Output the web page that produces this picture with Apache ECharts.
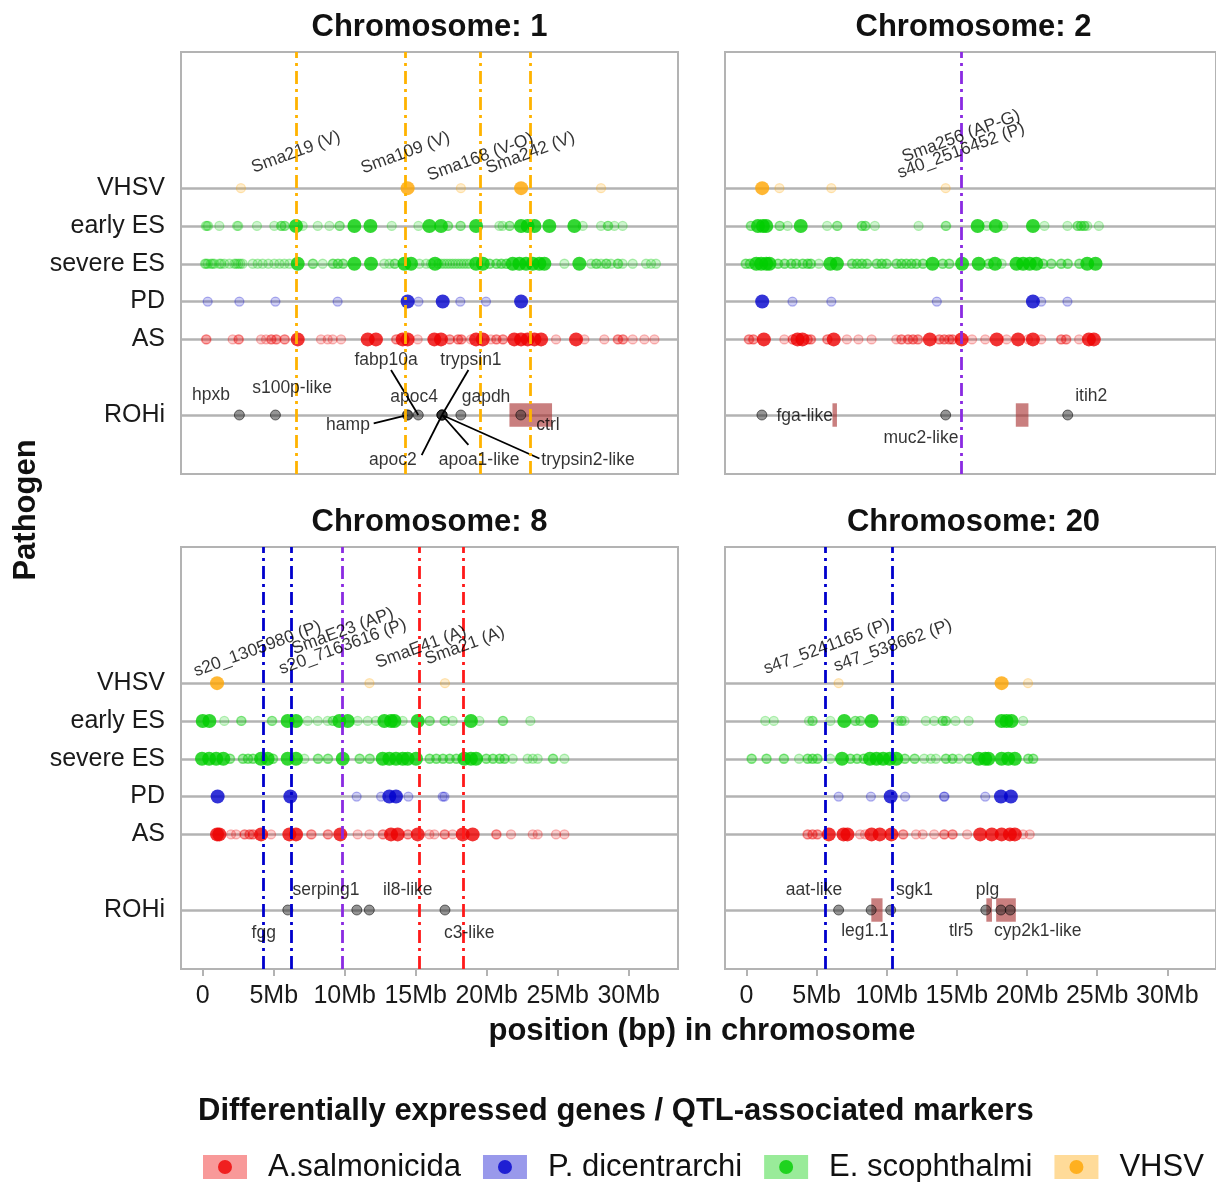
<!DOCTYPE html>
<html><head><meta charset="utf-8">
<script src="https://cdn.jsdelivr.net/npm/echarts@6/dist/echarts.min.js"></script>
<style>html,body{margin:0;padding:0;background:#fff}#c{width:1216px;height:1182px}</style>
</head><body><div id="c"></div>
<script>
// ---------- categories / ticks ----------
const chromosomes = ['1', '2', '8', '20'];
const pathogens = ['AS', 'PD', 'severe ES', 'early ES', 'VHSV'];
const rowLabels = ['ROHi', 'AS', 'PD', 'severe ES', 'early ES', 'VHSV'];
const rowValues = [0, 2, 3, 4, 5, 6];
const legendNames = ['A.salmonicida', 'P. dicentrarchi', 'E. scophthalmi', 'VHSV'];
const xTicks = [0, 5, 10, 15, 20, 25, 30];
const xTickLabels = ['0', '5Mb', '10Mb', '15Mb', '20Mb', '25Mb', '30Mb'];

// ---------- chromosome 1 (positions in Mb) ----------
const chr1_VHSV_sig = [14.43, 22.42];
const chr1_VHSV_ns = [2.69, 18.18, 28.05];
const chr1_earlyES_sig = [6.57, 10.68, 11.81, 15.96, 16.78, 19.25, 22.42, 22.88, 23.36, 24.41, 26.17];
const chr1_earlyES_ns = [0.22, 0.30, 0.38, 1.17, 2.42, 2.50, 3.82, 5.04, 5.51, 5.55, 5.75, 5.79, 7.04, 8.10, 8.92, 9.62, 9.66, 13.31, 15.19, 17.25, 17.29, 18.14, 18.18, 20.89, 21.12, 21.59, 21.63, 26.76, 28.05, 28.52, 28.56, 28.99, 29.57];
const chr1_severeES_sig = [6.69, 10.68, 11.85, 14.20, 14.67, 16.36, 19.25, 19.72, 21.83, 22.30, 22.77, 23.24, 23.71, 24.06, 26.52];
const chr1_severeES_ns = [0.16, 0.23, 0.35, 0.58, 0.70, 0.82, 1.17, 1.29, 1.52, 1.88, 2.23, 2.35, 2.51, 2.65, 2.81, 3.52, 3.87, 4.22, 4.62, 5.04, 5.40, 5.75, 6.10, 7.74, 7.78, 8.45, 9.15, 9.19, 9.50, 9.54, 9.86, 9.90, 12.79, 13.14, 13.50, 13.54, 15.26, 15.73, 16.08, 16.6, 16.8, 17.0, 17.2, 17.4, 17.6, 17.8, 18.0, 18.2, 18.4, 18.6, 18.8, 20.19, 20.23, 20.66, 20.70, 21.01, 21.05, 21.36, 21.40, 25.47, 27.35, 27.70, 27.74, 28.05, 28.40, 28.44, 28.75, 29.22, 29.26, 29.57, 30.28, 31.22, 31.57, 31.92];
const chr1_PD_sig = [14.43, 16.90, 22.42];
const chr1_PD_ns = [0.35, 2.58, 5.12, 9.50, 15.19, 18.14, 19.95];
const chr1_AS_sig = [6.69, 11.62, 12.20, 14.08, 14.43, 16.31, 16.78, 19.25, 19.72, 21.94, 22.42, 22.88, 23.36, 23.83, 26.29];
const chr1_AS_ns = [0.23, 0.27, 2.11, 2.51, 2.55, 4.11, 4.46, 4.81, 4.85, 5.16, 5.20, 5.75, 5.79, 8.33, 8.80, 9.15, 9.74, 13.61, 13.65, 15.14, 17.37, 17.41, 17.96, 18.00, 18.19, 18.23, 18.89, 20.30, 20.66, 20.70, 21.12, 21.16, 24.88, 26.88, 28.28, 29.22, 29.26, 29.57, 29.61, 30.28, 31.10, 31.81];
const chr1_geneNames = ['hpxb', 's100p-like', 'hamp', 'apoc4', 'fabp10a', 'trypsin1', 'apoc2', 'apoa1-like', 'trypsin2-like', 'gapdh', 'ctrl'];
const chr1_genePos = [2.58, 5.12, 14.40, 14.45, 15.18, 16.85, 16.85, 16.85, 16.85, 18.18, 22.40];
const chr1_geneLabelX = [0.58, 6.29, 10.23, 14.88, 12.91, 18.89, 13.39, 19.46, 27.13, 19.95, 24.31];
const chr1_geneLabelY = [0.53, 0.71, -0.26, 0.48, 1.45, 1.45, -1.19, -1.19, -1.19, 0.48, -0.26];
const chr1_segStartX = [null, null, 12.04, null, 13.26, 18.71, 15.42, 18.71, 23.71, null, null];
const chr1_segStartY = [null, null, -0.22, null, 1.19, 1.19, -1.06, -0.79, -1.15, null, null];
const chr1_rohStart = [21.6];
const chr1_rohEnd = [24.6];
const chr1_markerPos = [6.57, 14.27, 19.55, 23.08];
const chr1_markerTrait = ['V', 'V', 'V', 'V'];
const chr1_markerLabels = ['Sma219 (V)', 'Sma109 (V)', 'Sma168 (V-O)', 'Sma242 (V)'];
const chr1_markerLabelX = [6.57, 14.27, 19.55, 23.08];
const chr1_markerLabelY = [6.95, 6.93, 6.82, 6.93];

// ---------- chromosome 2 ----------
const chr2_VHSV_sig = [1.12];
const chr2_VHSV_ns = [2.35, 6.05, 14.20];
const chr2_earlyES_sig = [0.82, 1.17, 1.41, 3.87, 16.48, 17.77, 20.42];
const chr2_earlyES_ns = [0.30, 0.34, 2.35, 2.39, 2.93, 5.75, 6.45, 6.49, 8.21, 8.25, 8.45, 8.49, 9.15, 12.27, 14.20, 14.24, 17.13, 18.31, 21.24, 22.88, 23.59, 23.63, 23.83, 23.87, 24.06, 24.10, 24.29, 25.12];
const chr2_severeES_sig = [0.70, 1.05, 1.41, 1.64, 5.98, 6.45, 13.26, 15.37, 16.55, 17.72, 19.25, 19.72, 20.19, 20.66, 24.29, 24.88];
const chr2_severeES_ns = [-0.07, -0.03, 0.23, 0.27, 2.23, 2.27, 2.70, 2.74, 3.17, 3.21, 3.52, 3.56, 3.99, 4.03, 4.34, 4.38, 4.57, 4.61, 5.16, 7.51, 7.55, 7.86, 7.90, 8.21, 8.25, 8.57, 8.61, 9.27, 9.31, 9.62, 9.66, 9.97, 10.01, 10.68, 10.72, 11.03, 11.07, 11.38, 11.42, 11.74, 11.78, 12.09, 12.13, 12.56, 12.60, 13.97, 14.01, 14.43, 14.47, 17.25, 17.29, 18.19, 21.12, 21.16, 21.71, 21.75, 22.42, 22.46, 22.88, 22.92, 23.71, 23.75];
const chr2_PD_sig = [1.12, 20.42];
const chr2_PD_ns = [3.28, 6.05, 13.57, 21.01, 22.88];
const chr2_AS_sig = [1.24, 3.64, 3.99, 6.22, 13.07, 15.33, 17.84, 19.36, 20.42, 24.41, 24.76];
const chr2_AS_ns = [0.16, 0.20, 0.47, 0.51, 2.70, 3.28, 3.32, 4.34, 4.38, 4.57, 4.61, 5.75, 5.79, 7.16, 7.98, 8.92, 10.68, 11.03, 11.07, 11.50, 11.54, 11.85, 11.89, 12.20, 12.24, 13.73, 13.77, 14.08, 14.12, 14.43, 14.47, 14.67, 14.71, 16.08, 17.02, 18.54, 20.07, 21.01, 22.42, 22.46, 22.77, 22.81, 23.71];
const chr2_geneNames = ['fga-like', 'muc2-like', 'itih2'];
const chr2_genePos = [1.10, 14.20, 22.90];
const chr2_geneLabelX = [4.15, 12.44, 24.58];
const chr2_geneLabelY = [-0.02, -0.60, 0.51];
const chr2_segStartX = [null, null, null];
const chr2_segStartY = [null, null, null];
const chr2_rohStart = [6.13, 19.2];
const chr2_rohEnd = [6.45, 20.1];
const chr2_markerPos = [15.3];
const chr2_markerTrait = ['AP'];
const chr2_markerLabels = ['Sma256 (AP-G)', 's40_2516452 (P)'];
const chr2_markerLabelX = [15.3, 15.3];
const chr2_markerLabelY = [7.37, 6.99];

// ---------- chromosome 8 ----------
const chr8_VHSV_sig = [1.01];
const chr8_VHSV_ns = [11.74, 17.06];
const chr8_earlyES_sig = [0.00, 0.47, 5.98, 6.57, 9.62, 10.21, 12.79, 13.26, 13.50, 15.14, 18.89];
const chr8_earlyES_ns = [1.52, 2.70, 2.74, 4.86, 4.90, 7.39, 8.10, 8.80, 9.15, 9.19, 10.91, 11.62, 12.20, 14.08, 15.96, 16.00, 17.02, 17.06, 17.60, 19.48, 21.12, 21.16, 23.07];
const chr8_severeES_sig = [-0.05, 0.45, 0.95, 1.45, 4.11, 4.57, 5.98, 6.57, 9.86, 12.67, 13.14, 13.61, 14.08, 14.43, 15.02, 18.42, 18.89, 19.25];
const chr8_severeES_ns = [1.90, 1.94, 2.81, 2.85, 3.17, 3.21, 3.52, 3.56, 4.93, 4.97, 7.16, 8.10, 8.14, 8.80, 8.84, 11.03, 11.07, 11.74, 11.78, 15.96, 16.00, 16.43, 16.47, 16.90, 16.94, 17.37, 17.41, 17.84, 17.88, 19.95, 19.99, 20.42, 20.46, 20.89, 20.93, 21.24, 21.28, 21.83, 22.88, 23.24, 23.59, 24.65, 24.69, 25.47];
const chr8_PD_sig = [1.05, 6.17, 13.14, 13.61];
const chr8_PD_ns = [10.84, 12.56, 14.48, 16.90, 17.02];
const chr8_AS_sig = [1.01, 1.17, 4.11, 6.10, 6.57, 9.69, 13.26, 13.73, 15.14, 18.31, 19.01];
const chr8_AS_ns = [1.99, 2.35, 2.93, 2.97, 3.28, 3.32, 3.52, 3.56, 4.81, 7.63, 7.67, 8.80, 8.84, 10.91, 11.74, 12.67, 12.71, 14.43, 14.47, 15.96, 16.31, 17.02, 17.06, 17.60, 20.66, 20.70, 21.71, 23.24, 23.59, 24.88, 25.47];
const chr8_geneNames = ['fgg', 'serping1', 'il8-like', 'c3-like'];
const chr8_genePos = [5.99, 10.85, 11.73, 17.06];
const chr8_geneLabelX = [4.30, 8.68, 14.44, 18.77];
const chr8_geneLabelY = [-0.60, 0.53, 0.53, -0.60];
const chr8_segStartX = [null, null, null, null];
const chr8_segStartY = [null, null, null, null];
const chr8_rohStart = [];
const chr8_rohEnd = [];
const chr8_markerPos = [4.23, 6.22, 9.86, 15.25, 18.38];
const chr8_markerTrait = ['P', 'P', 'AP', 'A', 'A'];
const chr8_markerLabels = ['s20_1305980 (P)', 'SmaE23 (AP)', 's20_7163616 (P)', 'SmaE41 (A)', 'Sma21 (A)'];
const chr8_markerLabelX = [3.85, 9.86, 9.86, 15.37, 18.46];
const chr8_markerLabelY = [6.90, 7.37, 6.96, 6.95, 6.99];

// ---------- chromosome 20 ----------
const chr20_VHSV_sig = [18.19];
const chr20_VHSV_ns = [6.57, 20.07];
const chr20_earlyES_sig = [6.97, 8.92, 18.19, 18.54, 18.89];
const chr20_earlyES_ns = [1.34, 1.95, 4.46, 4.69, 4.73, 5.98, 7.74, 7.78, 8.10, 8.14, 10.80, 11.03, 11.07, 11.27, 12.79, 13.38, 13.97, 14.01, 14.20, 14.24, 14.90, 15.84, 19.72];
const chr20_severeES_sig = [6.81, 8.80, 9.27, 9.74, 10.21, 10.68, 16.55, 17.02, 17.25, 18.19, 18.66, 19.13];
const chr20_severeES_ns = [0.35, 0.39, 1.41, 1.45, 2.65, 2.69, 3.75, 4.34, 4.38, 4.69, 4.73, 5.04, 5.08, 5.98, 7.39, 7.43, 7.86, 7.90, 8.33, 8.37, 11.27, 11.31, 11.97, 12.01, 12.67, 13.14, 13.50, 14.20, 14.24, 14.67, 14.71, 15.14, 15.84, 15.88, 20.07, 20.11, 20.42, 20.46];
const chr20_PD_sig = [10.28, 18.14, 18.85];
const chr20_PD_ns = [6.57, 8.87, 11.31, 14.08, 14.12, 17.02];
const chr20_AS_sig = [5.87, 6.92, 7.20, 8.92, 9.50, 10.33, 16.66, 17.49, 18.19, 18.78, 19.13];
const chr20_AS_ns = [4.34, 4.38, 4.69, 4.73, 5.04, 5.08, 8.10, 8.45, 11.15, 11.19, 12.09, 12.56, 13.38, 14.08, 14.12, 14.67, 14.71, 15.73, 19.72, 20.19];
const chr20_geneNames = ['aat-like', 'leg1.1', 'sgk1', 'tlr5', 'plg', 'cyp2k1-like'];
const chr20_genePos = [6.57, 8.89, 10.28, 17.06, 18.14, 18.80];
const chr20_geneLabelX = [4.81, 8.45, 11.97, 15.30, 17.18, 20.77];
const chr20_geneLabelY = [0.53, -0.57, 0.53, -0.57, 0.53, -0.57];
const chr20_segStartX = [null, null, null, null, null, null];
const chr20_segStartY = [null, null, null, null, null, null];
const chr20_rohStart = [8.9, 17.1, 17.8];
const chr20_rohEnd = [9.7, 17.5, 19.2];
const chr20_markerPos = [5.63, 10.39];
const chr20_markerTrait = ['P', 'P'];
const chr20_markerLabels = ['s47_5241165 (P)', 's47_538662 (P)'];
const chr20_markerLabelX = [5.72, 10.44];
const chr20_markerLabelY = [6.96, 6.99];

// ---------- assemble ----------
const panelData = [
  {chr: '1', pts: {VHSV: [chr1_VHSV_sig, chr1_VHSV_ns], 'early ES': [chr1_earlyES_sig, chr1_earlyES_ns], 'severe ES': [chr1_severeES_sig, chr1_severeES_ns], PD: [chr1_PD_sig, chr1_PD_ns], AS: [chr1_AS_sig, chr1_AS_ns]},
   genes: [chr1_geneNames, chr1_genePos, chr1_geneLabelX, chr1_geneLabelY, chr1_segStartX, chr1_segStartY], roh: [chr1_rohStart, chr1_rohEnd],
   markers: [chr1_markerPos, chr1_markerTrait], mlab: [chr1_markerLabels, chr1_markerLabelX, chr1_markerLabelY]},
  {chr: '2', pts: {VHSV: [chr2_VHSV_sig, chr2_VHSV_ns], 'early ES': [chr2_earlyES_sig, chr2_earlyES_ns], 'severe ES': [chr2_severeES_sig, chr2_severeES_ns], PD: [chr2_PD_sig, chr2_PD_ns], AS: [chr2_AS_sig, chr2_AS_ns]},
   genes: [chr2_geneNames, chr2_genePos, chr2_geneLabelX, chr2_geneLabelY, chr2_segStartX, chr2_segStartY], roh: [chr2_rohStart, chr2_rohEnd],
   markers: [chr2_markerPos, chr2_markerTrait], mlab: [chr2_markerLabels, chr2_markerLabelX, chr2_markerLabelY]},
  {chr: '8', pts: {VHSV: [chr8_VHSV_sig, chr8_VHSV_ns], 'early ES': [chr8_earlyES_sig, chr8_earlyES_ns], 'severe ES': [chr8_severeES_sig, chr8_severeES_ns], PD: [chr8_PD_sig, chr8_PD_ns], AS: [chr8_AS_sig, chr8_AS_ns]},
   genes: [chr8_geneNames, chr8_genePos, chr8_geneLabelX, chr8_geneLabelY, chr8_segStartX, chr8_segStartY], roh: [chr8_rohStart, chr8_rohEnd],
   markers: [chr8_markerPos, chr8_markerTrait], mlab: [chr8_markerLabels, chr8_markerLabelX, chr8_markerLabelY]},
  {chr: '20', pts: {VHSV: [chr20_VHSV_sig, chr20_VHSV_ns], 'early ES': [chr20_earlyES_sig, chr20_earlyES_ns], 'severe ES': [chr20_severeES_sig, chr20_severeES_ns], PD: [chr20_PD_sig, chr20_PD_ns], AS: [chr20_AS_sig, chr20_AS_ns]},
   genes: [chr20_geneNames, chr20_genePos, chr20_geneLabelX, chr20_geneLabelY, chr20_segStartX, chr20_segStartY], roh: [chr20_rohStart, chr20_rohEnd],
   markers: [chr20_markerPos, chr20_markerTrait], mlab: [chr20_markerLabels, chr20_markerLabelX, chr20_markerLabelY]}
];

// ---------- styles ----------
const FONT = 'Liberation Sans, Arial, Helvetica, sans-serif';
const PCOL = {AS: [238, 0, 0], PD: [0, 0, 205], 'severe ES': [0, 205, 0], 'early ES': [0, 205, 0], VHSV: [255, 165, 0]};
const PLEG = {AS: 'A.salmonicida', PD: 'P. dicentrarchi', 'severe ES': 'E. scophthalmi', 'early ES': 'E. scophthalmi', VHSV: 'VHSV'};
const LEGCOL = [[238, 0, 0], [0, 0, 205], [0, 205, 0], [255, 165, 0]];
const TRAITCOL = {V: '#FFB300', AP: '#8A2BE2', P: '#0000CD', A: '#FF1A1A'};
const rgba = (c, a) => `rgba(${c[0]},${c[1]},${c[2]},${a})`;
const rowOf = p => rowValues[rowLabels.indexOf(p)];

const gridPos = [[181, 52], [725, 52], [181, 547], [725, 547]];
const GW = 497, GH = 422;
const XMIN = -1.53, XMAX = 33.47, YMIN = -1.56, YMAX = 9.6;

const grids = [], xAxes = [], yAxes = [], series = [], titles = [];
panelData.forEach((pd, i) => {
  const isLeft = i % 2 === 0, isBottom = i >= 2;
  grids.push({left: gridPos[i][0], top: gridPos[i][1], width: GW, height: GH, show: true,
    borderColor: '#B3B3B3', borderWidth: 2, backgroundColor: '#fff'});
  xAxes.push({type: 'value', gridIndex: i, min: XMIN, max: XMAX, position: 'bottom',
    axisLine: {show: false, onZero: false}, splitLine: {show: false},
    axisTick: {show: isBottom, customValues: xTicks, length: 7, lineStyle: {color: '#B3B3B3', width: 2}},
    axisLabel: {show: isBottom, customValues: xTicks, margin: 15, fontSize: 25, fontFamily: FONT, color: '#1a1a1a',
      formatter: v => xTickLabels[xTicks.indexOf(v)]}});
  yAxes.push({type: 'value', gridIndex: i, min: YMIN, max: YMAX,
    axisLine: {show: false, onZero: false},
    axisTick: {show: false, customValues: rowValues},
    splitLine: {show: true, lineStyle: {color: '#B3B3B3', width: 2.5}},
    axisLabel: {show: isLeft, customValues: rowValues, margin: 16, fontSize: 25, fontFamily: FONT, color: '#1a1a1a',
      lineHeight: 30, padding: [3, 0, 0, 0],
      formatter: v => rowLabels[rowValues.indexOf(v)]}});
  titles.push({text: 'Chromosome: ' + pd.chr, left: gridPos[i][0] + GW / 2, top: isBottom ? 504 : 9, textAlign: 'center', padding: 0,
    textStyle: {fontSize: 31, fontWeight: 'bold', fontFamily: FONT, color: '#111', lineHeight: 36}});

  const base = {xAxisIndex: i, yAxisIndex: i, silent: true, emphasis: {disabled: true}, animation: false};
  // ROHi regions
  series.push(Object.assign({type: 'custom', z: 1, data: pd.roh[0].map((s, k) => [s, pd.roh[1][k]]),
    encode: {x: [0, 1]},
    renderItem: (params, api) => {
      const a = api.coord([api.value(0), 0.31]);
      const b = api.coord([api.value(1), -0.31]);
      return {type: 'rect', shape: {x: a[0], y: a[1], width: b[0] - a[0], height: b[1] - a[1]},
        style: {fill: 'rgba(165,42,42,0.6)'}};
    }}, base));
  // pathogen points
  pathogens.forEach(p => {
    const y = rowOf(p), c = PCOL[p];
    series.push(Object.assign({type: 'scatter', name: PLEG[p], z: 2, symbol: 'circle', symbolSize: 9,
      itemStyle: {color: rgba(c, 0.24), borderColor: rgba(c, 0.35), borderWidth: 1.3},
      data: pd.pts[p][1].map(x => [x, y])}, base));
    series.push(Object.assign({type: 'scatter', name: PLEG[p], z: 3, symbol: 'circle', symbolSize: 14,
      itemStyle: {color: rgba(c, 1)},
      data: pd.pts[p][0].map(x => [x, y])}, base));
  });
  // ROHi gene points
  const g = pd.genes;
  series.push(Object.assign({type: 'scatter', z: 3, symbol: 'circle', symbolSize: 10,
    itemStyle: {color: 'rgba(40,40,40,0.62)', borderColor: 'rgba(0,0,0,0.65)', borderWidth: 1},
    data: g[1].map(x => [x, 0])}, base));
  // label segments
  const segs = [];
  g[0].forEach((n, k) => { if (g[4][k] !== null) segs.push({coords: [[g[4][k], g[5][k]], [g[1][k], 0]]}); });
  series.push(Object.assign({type: 'lines', coordinateSystem: 'cartesian2d', z: 4, polyline: false,
    lineStyle: {color: '#000', width: 1.8, opacity: 1, curveness: 0}, data: segs}, base));
  // gene labels
  series.push(Object.assign({type: 'scatter', z: 5, symbolSize: 1, itemStyle: {color: 'rgba(0,0,0,0)'},
    label: {show: true, position: 'inside', formatter: '{b}', fontSize: 17.5, fontFamily: FONT, color: '#000'},
    data: g[0].map((n, k) => ({name: n, value: [g[2][k], g[3][k]]}))}, base));
  // marker labels
  const ml = pd.mlab;
  series.push(Object.assign({type: 'scatter', z: 5, symbolSize: 1, itemStyle: {color: 'rgba(0,0,0,0)'},
    label: {show: true, position: 'inside', rotate: 20, formatter: '{b}', fontSize: 17.5, fontFamily: FONT, color: '#000',
      align: 'center', verticalAlign: 'middle'},
    data: ml[0].map((n, k) => ({name: n, value: [ml[1][k], ml[2][k]]}))}, base));
  // marker lines
  series.push(Object.assign({type: 'scatter', z: 6, data: [],
    markLine: {silent: true, symbol: ['none', 'none'], animation: false, label: {show: false},
      lineStyle: {width: 2.8, type: [13, 5, 3, 5]},
      emphasis: {disabled: true},
      data: pd.markers[0].map((x, k) => ({xAxis: x, lineStyle: {color: TRAITCOL[pd.markers[1][k]]}}))}}, base));
});

titles.push({text: 'position (bp) in chromosome', left: 702, top: 1013, textAlign: 'center', padding: 0,
  textStyle: {fontSize: 31, fontWeight: 'bold', fontFamily: FONT, color: '#111', lineHeight: 36}});
titles.push({text: 'Differentially expressed genes / QTL-associated markers', left: 198, top: 1093, padding: 0,
  textStyle: {fontSize: 31, fontWeight: 'bold', fontFamily: FONT, color: '#111', lineHeight: 36}});

// dot icon: a 44x24 frame (tiny corner marks) with a centred circle of diameter 14
const DOT_ICON = 'path://M0,0h0.01v0.01h-0.01zM43.99,23.99h0.01v0.01h-0.01zM29,12a7,7 0 1,1 -14,0a7,7 0 1,1 14,0z';
const legendCommon = {left: 203, top: 1149, orient: 'horizontal', itemWidth: 44, itemHeight: 24, itemGap: 22, padding: 0,
  selectedMode: false, symbolKeepAspect: false};
const legends = [
  Object.assign({}, legendCommon, {
    data: legendNames.map((n, k) => ({name: n, icon: 'rect', itemStyle: {color: rgba(LEGCOL[k], 0.5), borderWidth: 0}})),
    textStyle: {fontSize: 31, fontFamily: FONT, color: '#111', padding: [0, 0, 0, 16], lineHeight: 36}}),
  Object.assign({}, legendCommon, {
    data: legendNames.map((n, k) => ({name: n, icon: DOT_ICON, itemStyle: {color: rgba(LEGCOL[k], 1), borderWidth: 0}})),
    textStyle: {fontSize: 31, fontFamily: FONT, color: 'rgba(0,0,0,0)', padding: [0, 0, 0, 16], lineHeight: 36}})
];

const chart = echarts.init(document.getElementById('c'), null, {renderer: 'canvas'});
chart.setOption({
  animation: false,
  backgroundColor: '#fff',
  title: titles,
  legend: legends,
  grid: grids,
  xAxis: xAxes,
  yAxis: yAxes,
  series: series,
  graphic: [{type: 'text', x: 26, y: 510, rotation: Math.PI / 2, silent: true,
    style: {text: 'Pathogen', font: 'bold 31px ' + FONT, fill: '#111', align: 'center', verticalAlign: 'middle'}}]
});
</script></body></html>
